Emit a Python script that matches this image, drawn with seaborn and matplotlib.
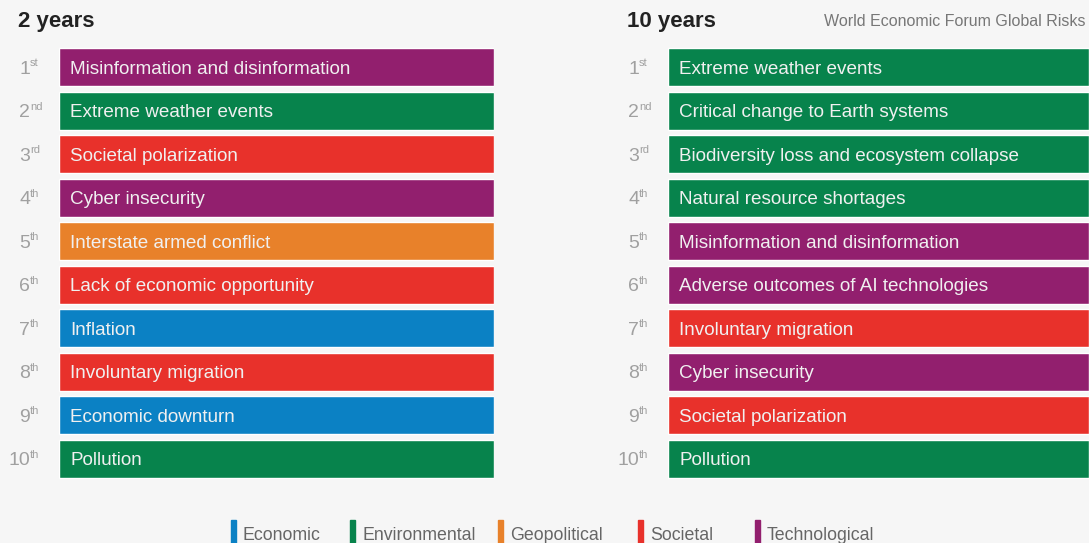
import matplotlib
matplotlib.use("Agg")
from matplotlib import pyplot as plt
import matplotlib.patches as mpatches
import numpy as np
import pandas as pd
import seaborn as sns

ranks = ["1", "2", "3", "4", "5", "6", "7", "8", "9", "10"]
suffixes = ["st", "nd", "rd", "th", "th", "th", "th", "th", "th", "th"]

risks_2y = ["Misinformation and disinformation", "Extreme weather events",
            "Societal polarization", "Cyber insecurity", "Interstate armed conflict",
            "Lack of economic opportunity", "Inflation", "Involuntary migration",
            "Economic downturn", "Pollution"]
types_2y = ["Technological", "Environmental", "Societal", "Technological",
            "Geopolitical", "Societal", "Economic", "Societal", "Economic",
            "Environmental"]

risks_10y = ["Extreme weather events", "Critical change to Earth systems",
             "Biodiversity loss and ecosystem collapse", "Natural resource shortages",
             "Misinformation and disinformation", "Adverse outcomes of AI technologies",
             "Involuntary migration", "Cyber insecurity", "Societal polarization",
             "Pollution"]
types_10y = ["Environmental", "Environmental", "Environmental", "Environmental",
             "Technological", "Technological", "Societal", "Technological",
             "Societal", "Environmental"]

categories = ["Economic", "Environmental", "Geopolitical", "Societal", "Technological"]
colors = ["#0b81c4", "#07834c", "#e8812a", "#e8312b", "#921f6e"]
palette = dict(zip(categories, colors))

bg = "#f6f6f6"
sns.set_style("white")
plt.rcParams["font.family"] = ["Liberation Sans", "DejaVu Sans"]

fig = plt.figure(figsize=(10.89, 5.43), dpi=100, facecolor=bg)
W, H = 1089, 543


def panel(left_px, right_px, risks, types, title):
    top_px, row_px = 45.5, 43.5
    ax = fig.add_axes([left_px / W, 1 - (top_px + 10 * row_px) / H,
                       (right_px - left_px) / W, 10 * row_px / H])
    df = pd.DataFrame({"rank": ranks, "risk": risks, "type": types, "w": 1.0})
    sns.barplot(data=df, x="w", y="rank", hue="type", palette=palette,
                dodge=False, orient="h", width=0.87, saturation=1,
                legend=False, ax=ax)
    ax.set_xlim(0, 1)
    ax.set_ylim(9.5, -0.5)
    ax.set_facecolor(bg)
    ax.set_axis_off()
    for i, r in enumerate(df.itertuples()):
        ax.annotate(r.risk, xy=(0, i), xytext=(11, -2), textcoords="offset pixels",
                    va="center", ha="left", fontsize=13.6, color="#f0f0f0")
        ax.annotate(r.rank, xy=(0, i), xytext=(-29, -2), textcoords="offset pixels",
                    va="center", ha="right", fontsize=14, color="#a0a0a0")
        ax.annotate(suffixes[i], xy=(0, i), xytext=(-29, 4), textcoords="offset pixels",
                    va="center", ha="left", fontsize=8, color="#a0a0a0")
    fig.text((left_px - 41) / W, 1 - 22 / H, title, fontsize=16, fontweight="bold",
             color="#222222", va="center", ha="left")
    return ax


panel(59, 494, risks_2y, types_2y, "2 years")
panel(668, 1089, risks_10y, types_10y, "10 years")

fig.text(1086 / W, 1 - 22 / H, "World Economic Forum Global Risks", fontsize=11.5,
         color="#777777", va="center", ha="right")

# legend along the bottom edge
leg_x = [231, 350, 498, 638, 755]
for x, cat in zip(leg_x, categories):
    fig.patches.append(mpatches.Rectangle((x / W, 0), 5 / W, 23 / H,
                                          transform=fig.transFigure,
                                          color=palette[cat], figure=fig))
    fig.text((x + 12) / W, 1 - 535 / H, cat, fontsize=12.8, color="#666666",
             va="center", ha="left")

fig.savefig("out.png", dpi=100, facecolor=bg)
